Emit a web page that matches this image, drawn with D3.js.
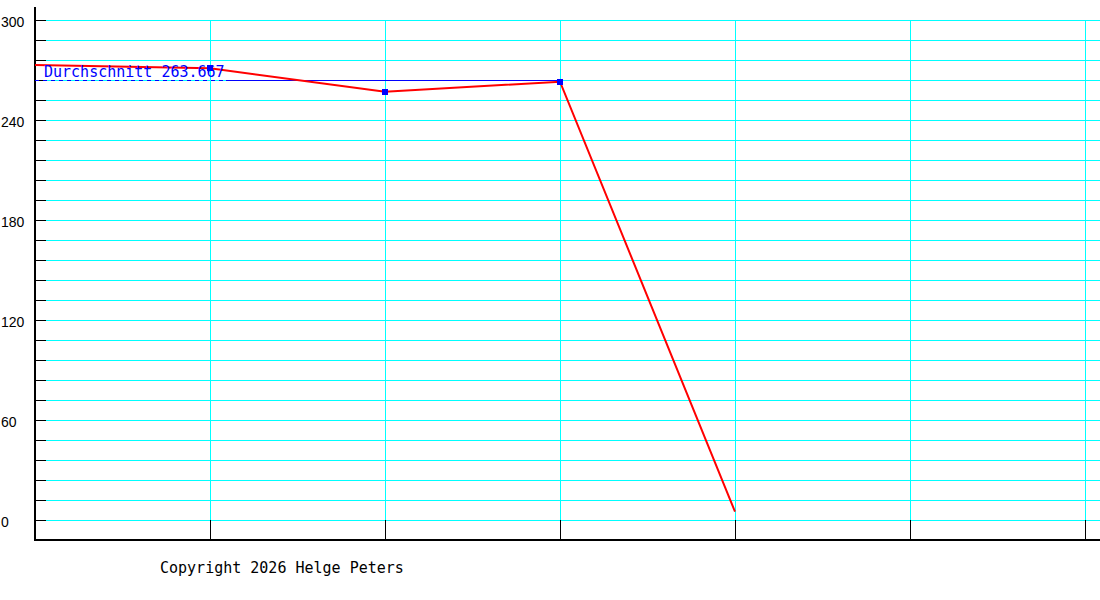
<!DOCTYPE html>
<html>
<head>
<meta charset="utf-8">
<script src="https://cdn.jsdelivr.net/npm/d3@7"></script>
<style>
  body { margin: 0; background: #fff; }
  svg { display: block; }
</style>
</head>
<body>
<div id="chart"></div>
<script>
// Data
const slots = [0, 1, 2, 3, 4, 5, 6];           // x grid positions
const values = [273, 271, 257, 263, 5];        // series, one per slot
const marked = [1, 2, 3];                      // slots with a marker (used for average)
const yTicks = d3.range(0, 301, 12);           // grid lines
const yLabels = [0, 60, 120, 180, 240, 300];   // labelled ticks
const copyright = "Copyright 2026 Helge Peters";

function draw() {
  const dimensions = {
    width: 1100,
    height: 600,
    axisX: 35,
    axisY: 540,
    plotRight: 1085,
    top: 20,
    bottom: 520,
  };

  const svg = d3
    .select("#chart")
    .append("svg")
    .attr("width", dimensions.width)
    .attr("height", dimensions.height);

  const xScale = d3
    .scaleLinear()
    .domain(d3.extent(slots))
    .range([dimensions.axisX, dimensions.plotRight]);
  const yScale = d3
    .scaleLinear()
    .domain([0, 300])
    .range([dimensions.bottom, dimensions.top]);

  // horizontal grid (cyan) from x=46 to the right edge
  const hGrid = d3.axisRight(yScale)
    .tickValues(yTicks)
    .tickSize(dimensions.width - 46)
    .tickFormat("");
  svg.append("g")
    .attr("transform", "translate(46,0)")
    .call(hGrid)
    .call((g) => g.select(".domain").remove())
    .call((g) => g.selectAll("line").attr("stroke", "#00ffff"))
    .attr("shape-rendering", "crispEdges");

  // vertical grid (cyan)
  const vGrid = d3.axisBottom(xScale)
    .tickValues(slots.slice(1))
    .tickSize(dimensions.bottom - dimensions.top)
    .tickFormat("");
  svg.append("g")
    .attr("transform", `translate(0,${dimensions.top})`)
    .call(vGrid)
    .call((g) => g.select(".domain").remove())
    .call((g) => g.selectAll("line").attr("stroke", "#00ffff"))
    .attr("shape-rendering", "crispEdges");

  // black ticks on the y axis
  svg.append("g")
    .attr("transform", `translate(${dimensions.axisX},0)`)
    .call(d3.axisRight(yScale).tickValues(yTicks).tickSize(11).tickFormat(""))
    .call((g) => g.select(".domain").remove())
    .call((g) => g.selectAll("line").attr("stroke", "#000"))
    .attr("shape-rendering", "crispEdges");

  // black ticks on the x axis
  svg.append("g")
    .attr("transform", `translate(0,${dimensions.axisY})`)
    .call(d3.axisTop(xScale).tickValues(slots.slice(1)).tickSize(20).tickFormat(""))
    .call((g) => g.select(".domain").remove())
    .call((g) => g.selectAll("line").attr("stroke", "#000"))
    .attr("shape-rendering", "crispEdges");

  // y labels
  svg.append("g")
    .selectAll("text")
    .data(yLabels)
    .join("text")
    .attr("x", 1)
    .attr("y", (d) => yScale(d) + 7)
    .attr("font-family", "Liberation Sans, Arial, sans-serif")
    .attr("font-size", 14)
    .attr("fill", "#000")
    .text((d) => d);

  // axes lines
  svg.append("line")
    .attr("x1", dimensions.axisX).attr("x2", dimensions.axisX)
    .attr("y1", 7).attr("y2", dimensions.axisY + 1)
    .attr("stroke", "#000").attr("stroke-width", 2.5)
    .attr("shape-rendering", "crispEdges");
  svg.append("line")
    .attr("x1", dimensions.axisX).attr("x2", dimensions.width)
    .attr("y1", dimensions.axisY).attr("y2", dimensions.axisY)
    .attr("stroke", "#000").attr("stroke-width", 2.5)
    .attr("shape-rendering", "crispEdges");

  // average line
  const avg = d3.mean(marked, (i) => values[i]);
  const avgY = yScale(avg);
  const labelEnd = 226;
  svg.append("line")
    .attr("x1", dimensions.axisX).attr("x2", labelEnd)
    .attr("y1", avgY).attr("y2", avgY)
    .attr("stroke", "#0000ff").attr("stroke-dasharray", "4,4")
    .attr("shape-rendering", "crispEdges");
  svg.append("line")
    .attr("x1", labelEnd).attr("x2", xScale(d3.max(marked)))
    .attr("y1", avgY).attr("y2", avgY)
    .attr("stroke", "#0000ff")
    .attr("shape-rendering", "crispEdges");

  // data line
  const line = d3.line()
    .x((d, i) => xScale(slots[i]))
    .y((d) => yScale(d));
  svg.append("path")
    .datum(values)
    .attr("d", line)
    .attr("fill", "none")
    .attr("stroke", "#ff0000")
    .attr("stroke-width", 2);

  // markers
  svg.append("g")
    .selectAll("rect")
    .data(marked)
    .join("rect")
    .attr("x", (i) => xScale(slots[i]) - 3)
    .attr("y", (i) => yScale(values[i]) - 3)
    .attr("width", 6)
    .attr("height", 6)
    .attr("fill", "#0000ff")
    .attr("shape-rendering", "crispEdges");

  // average label
  svg.append("text")
    .attr("x", 44)
    .attr("y", 77)
    .attr("font-family", "DejaVu Sans Mono, monospace")
    .attr("font-size", 15)
    .attr("fill", "#0000ff")
    .text("Durchschnitt " + avg.toFixed(3));

  // footer
  svg.append("text")
    .attr("x", 160)
    .attr("y", 573)
    .attr("font-family", "DejaVu Sans Mono, monospace")
    .attr("font-size", 15)
    .attr("fill", "#000")
    .text(copyright);
}

draw();
</script>
</body>
</html>
